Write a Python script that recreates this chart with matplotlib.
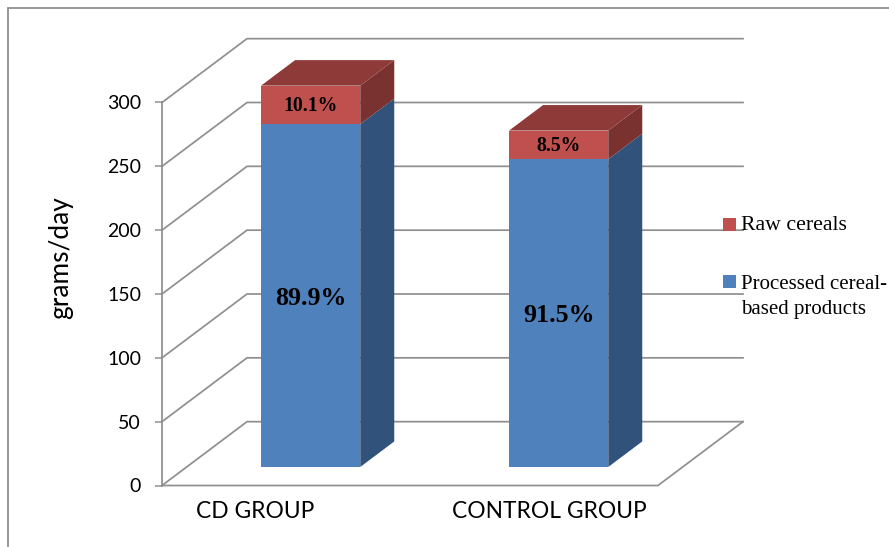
import matplotlib
matplotlib.use("Agg")
import matplotlib.pyplot as plt
from matplotlib.lines import Line2D
from matplotlib.patches import Polygon, Rectangle

# Daily cereal intake by group
groups = ["CD GROUP", "CONTROL GROUP"]
total_grams = [298.7, 263.5]
processed_share = [89.9, 91.5]
raw_share = [10.1, 8.5]
y_ticks = [0, 50, 100, 150, 200, 250, 300]
legend_labels = ["Raw cereals", "Processed cereal-\nbased products"]

W, H = 889, 547
BLUE, BLUE_SIDE = "#4F81BD", "#31527A"
RED, RED_SIDE, RED_TOP = "#C0504D", "#7A3230", "#8E3A38"
GRID = "#8F8F8F"
SANS = "Lato"
SERIF = "Liberation Serif"

fig = plt.figure(figsize=(W / 100, H / 100), dpi=100)
# Front plane of the pseudo-3D plot
ax = fig.add_axes([162 / W, 1 - 485.5 / H, 496 / W, 383 / H])
ax.set_xlim(0, 2)
ax.set_ylim(0, 300)
ax.patch.set_visible(False)

# Oblique projection: depth 1 is the back wall
DEPTH_X = 85 / 248
DEPTH_Y = 50.0


def project(x, y, d):
    return x + d * DEPTH_X, y + d * DEPTH_Y


def draw_path(points, **kw):
    xs, ys = zip(*points)
    ax.plot(xs, ys, color=GRID, lw=1.25, zorder=1, clip_on=False,
            solid_joinstyle="miter", **kw)


for t in y_ticks:
    draw_path([(0, t), project(0, t, 1), project(2, t, 1)])
draw_path([(0, 0), (2, 0), project(2, 0, 1)])

# Stacked blocks
BAR_W = 0.4
D_FRONT, D_BACK = 0.29, 0.69


def block(x0, y0, y1, front, side, top=None):
    x1 = x0 + BAR_W
    def P(x, y, d):
        return project(x, y, d)
    ax.add_patch(Polygon([P(x0, y0, D_FRONT), P(x1, y0, D_FRONT),
                          P(x1, y1, D_FRONT), P(x0, y1, D_FRONT)],
                         fc=front, ec="none", zorder=3, clip_on=False))
    ax.add_patch(Polygon([P(x1, y0, D_FRONT), P(x1, y0, D_BACK),
                          P(x1, y1, D_BACK), P(x1, y1, D_FRONT)],
                         fc=side, ec="none", zorder=3, clip_on=False))
    if top:
        ax.add_patch(Polygon([P(x0, y1, D_FRONT), P(x1, y1, D_FRONT),
                              P(x1, y1, D_BACK), P(x0, y1, D_BACK)],
                             fc=top, ec="none", zorder=3, clip_on=False))


for i, total in enumerate(total_grams):
    x0 = i + 0.5 - BAR_W / 2
    processed = total * processed_share[i] / 100
    block(x0, 0, processed, BLUE, BLUE_SIDE)
    block(x0, processed, total, RED, RED_SIDE, RED_TOP)
    # Percentage labels sit slightly below the centre of each segment
    cx, y_mid = project(i + 0.5, processed / 2, D_FRONT)
    ax.text(cx, y_mid - 2.2, f"{processed_share[i]}%", ha="center", va="center",
            family=SERIF, weight="bold", fontsize=18.7, color="black", zorder=5)
    cx, y_mid = project(i + 0.5, processed + (total - processed) / 2, D_FRONT)
    ax.text(cx, y_mid - 1.0, f"{raw_share[i]}%", ha="center", va="center",
            family=SERIF, weight="bold", fontsize=14.2, color="black", zorder=5)

# Axes furniture
for name in ("top", "right", "bottom"):
    ax.spines[name].set_visible(False)
ax.spines["left"].set_color(GRID)
ax.spines["left"].set_linewidth(1.25)
ax.set_yticks(y_ticks)
ax.tick_params(axis="y", length=5, width=1.1, color=GRID, pad=10,
               labelsize=14, labelfontfamily=SANS)
ax.set_xticks([0.375, 1.56], groups)
ax.tick_params(axis="x", length=0, pad=11, labelsize=16.4, labelfontfamily=SANS)
ax.set_ylabel("grams/day", family=SANS, fontsize=18.9)
ax.yaxis.set_label_coords(73 / W, 1 - 258 / H, transform=fig.transFigure)


def px(x, y):
    return x / W, 1 - y / H


# Legend, drawn above the wall lines
fig.add_artist(Rectangle(px(723, 231), 13 / W, 13 / H, fc=RED, ec="none",
                         transform=fig.transFigure, zorder=6))
fig.add_artist(Rectangle(px(723, 288), 13 / W, 13 / H, fc=BLUE, ec="none",
                         transform=fig.transFigure, zorder=6))
fig.text(*px(741, 226), legend_labels[0], family=SERIF, fontsize=15.7,
         va="center", ha="left", zorder=6)
fig.text(*px(741, 297), legend_labels[1], family=SERIF, fontsize=15.0,
         va="center", ha="left", linespacing=1.42, zorder=6)

# Outer frame, open to the right and bottom
x0, y0 = px(8, 7.5)
fig.add_artist(Line2D([x0, x0, 1], [0, y0, y0], color=GRID, lw=1.3,
                      transform=fig.transFigure, solid_joinstyle="miter"))

fig.savefig("out.png", dpi=100)
